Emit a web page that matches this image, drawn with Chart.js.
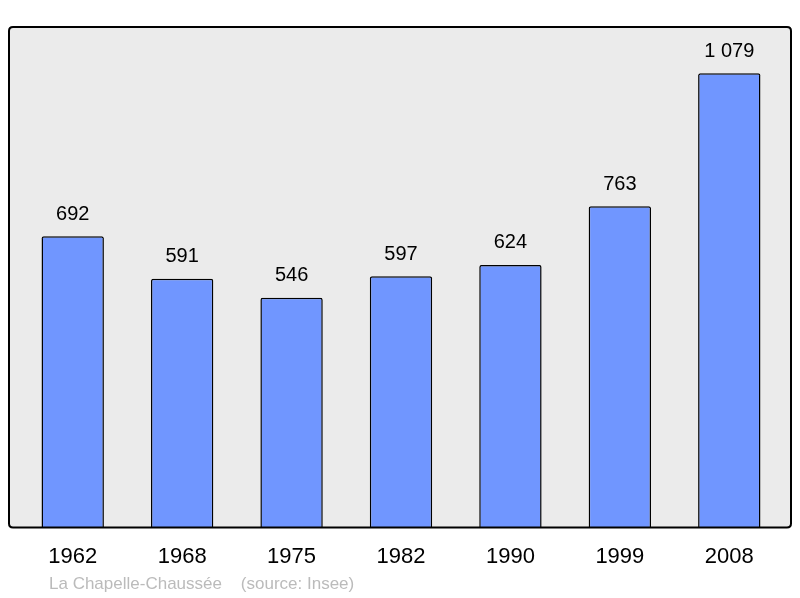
<!DOCTYPE html>
<html>
<head>
<meta charset="utf-8">
<script src="https://cdn.jsdelivr.net/npm/chart.js@4/dist/chart.umd.min.js"></script>
<style>
	html, body { margin: 0; padding: 0; background: #fff; }
	#wrap { width: 800px; height: 598px; }
</style>
</head>
<body>
<div id="wrap"><canvas id="pop_chart"></canvas></div>
<script>
// population by census year
var years = ['1962', '1968', '1975', '1982', '1990', '1999', '2008'];
var population = [692, 591, 546, 597, 624, 763, 1079];
var caption = 'La Chapelle-Chaussée\u00a0\u00a0\u00a0\u00a0(source: Insee)';

function fmt_num(v) {
	return String(v).replace(/\B(?=(\d{3})+(?!\d))/g, ' ');
}

function round_rect(ctx, x, y, w, h, r) {
	ctx.beginPath();
	ctx.moveTo(x + r, y);
	ctx.lineTo(x + w - r, y);
	ctx.quadraticCurveTo(x + w, y, x + w, y + r);
	ctx.lineTo(x + w, y + h - r);
	ctx.quadraticCurveTo(x + w, y + h, x + w - r, y + h);
	ctx.lineTo(x + r, y + h);
	ctx.quadraticCurveTo(x, y + h, x, y + h - r);
	ctx.lineTo(x, y + r);
	ctx.quadraticCurveTo(x, y, x + r, y);
	ctx.closePath();
}

// gray frame behind the bars, border drawn on top
var frame_plugin = {
	id: 'frame',
	beforeDatasetsDraw: function(chart) {
		var a = chart.chartArea, ctx = chart.ctx;
		ctx.save();
		round_rect(ctx, a.left - 9, a.top, a.right - a.left + 16, a.bottom - a.top, 4);
		ctx.fillStyle = '#ebebeb';
		ctx.fill();
		ctx.restore();
	},
	afterDatasetsDraw: function(chart) {
		var a = chart.chartArea, ctx = chart.ctx;
		ctx.save();
		round_rect(ctx, a.left - 9, a.top, a.right - a.left + 16, a.bottom - a.top, 4);
		ctx.lineWidth = 2;
		ctx.strokeStyle = '#000';
		ctx.stroke();

		// value labels above bars
		var meta = chart.getDatasetMeta(0);
		ctx.fillStyle = '#000';
		ctx.font = '20px "Liberation Sans", Arial, sans-serif';
		ctx.textAlign = 'center';
		ctx.textBaseline = 'middle';
		meta.data.forEach(function(bar, i) {
			ctx.fillText(fmt_num(population[i]), bar.x, bar.y - 22);
		});

		// caption
		ctx.fillStyle = '#bbbbbb';
		ctx.font = '17px "Liberation Sans", Arial, sans-serif';
		ctx.textAlign = 'left';
		ctx.fillText(caption, 49, 584);
		ctx.restore();
	}
};

var ctx = document.getElementById('pop_chart').getContext('2d');

var pop_chart = new Chart(ctx, {
	type: 'bar',
	data: {
		labels: years,
		datasets: [{
			data: population,
			backgroundColor: '#7096ff',
			borderColor: '#000',
			borderWidth: 1.5,
			borderRadius: 2,
			borderSkipped: 'bottom',
			barPercentage: 0.57,
			categoryPercentage: 1
		}]
	},
	options: {
		responsive: true,
		maintainAspectRatio: false,
		animation: false,
		layout: {
			padding: { left: 18, right: 16, top: 27, bottom: 12 }
		},
		scales: {
			x: {
				grid: { display: false, drawTicks: false },
				border: { display: false },
				ticks: {
					color: '#000',
					padding: 16,
					font: { family: '"Liberation Sans", Arial, sans-serif', size: 22 }
				}
			},
			y: {
				display: false,
				min: 0,
				max: 1189
			}
		},
		plugins: {
			legend: { display: false },
			tooltip: { enabled: false },
			title: { display: false }
		}
	},
	plugins: [frame_plugin]
});
</script>
</body>
</html>
